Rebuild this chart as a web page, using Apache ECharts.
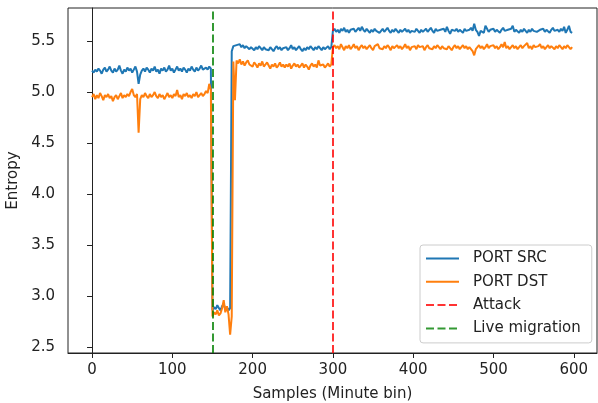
<!DOCTYPE html>
<html>
<head>
<meta charset="utf-8">
<script src="https://cdn.jsdelivr.net/npm/echarts@6/dist/echarts.min.js"></script>
<style>
body{margin:0;background:#fff;}
#main{width:598px;height:403px;}
</style>
</head>
<body>
<div id="main"></div>
<script>
var step=2;                 //one value every 2 samples (minute bins)
var portSrc=[
5.21,5.19,5.22,5.20,5.23,5.21,5.18,5.22,5.24,5.20,
5.22,5.25,5.21,5.19,5.23,5.20,5.22,5.26,5.21,5.18,
5.22,5.20,5.24,5.21,5.23,5.19,5.22,5.25,5.20,5.08,
5.17,5.21,5.23,5.20,5.24,5.22,5.19,5.23,5.21,5.25,
5.20,5.22,5.18,5.23,5.21,5.24,5.20,5.22,5.26,5.21,
5.23,5.19,5.22,5.25,5.21,5.23,5.20,5.24,5.22,5.19,
5.23,5.21,5.25,5.22,5.20,5.24,5.21,5.23,5.26,5.22,
5.21,5.24,5.22,5.25,5.23,2.86,2.89,2.87,2.91,2.88,
2.86,2.90,2.92,2.87,2.89,2.86,2.88,5.40,5.45,5.44,
5.46,5.45,5.47,5.44,5.46,5.43,5.45,5.44,5.42,5.44,
5.43,5.41,5.44,5.42,5.45,5.43,5.41,5.44,5.42,5.43,
5.41,5.44,5.42,5.40,5.43,5.45,5.42,5.44,5.41,5.43,
5.42,5.44,5.41,5.43,5.46,5.42,5.44,5.41,5.43,5.45,
5.42,5.40,5.43,5.41,5.44,5.42,5.45,5.43,5.41,5.44,
5.42,5.45,5.43,5.41,5.44,5.42,5.43,5.45,5.42,5.44,
5.60,5.62,5.59,5.61,5.58,5.62,5.60,5.63,5.59,5.61,
5.58,5.61,5.60,5.62,5.59,5.61,5.63,5.60,5.64,5.61,
5.59,5.62,5.60,5.58,5.61,5.59,5.62,5.60,5.61,5.58,
5.60,5.62,5.59,5.61,5.63,5.60,5.58,5.61,5.59,5.62,
5.60,5.58,5.61,5.59,5.60,5.62,5.59,5.61,5.58,5.60,
5.61,5.59,5.62,5.60,5.58,5.61,5.59,5.60,5.62,5.59,
5.61,5.63,5.60,5.58,5.62,5.60,5.59,5.61,5.60,5.62,
5.59,5.64,5.60,5.57,5.61,5.62,5.60,5.62,5.59,5.61,
5.60,5.58,5.62,5.60,5.59,5.61,5.63,5.60,5.67,5.61,
5.59,5.55,5.60,5.61,5.58,5.65,5.62,5.59,5.61,5.60,
5.62,5.59,5.61,5.60,5.58,5.61,5.63,5.60,5.59,5.61,
5.60,5.62,5.65,5.59,5.61,5.60,5.58,5.61,5.59,5.62,
5.60,5.58,5.61,5.59,5.62,5.60,5.61,5.59,5.58,5.61,
5.60,5.62,5.59,5.61,5.60,5.58,5.61,5.63,5.60,5.59,
5.61,5.59,5.62,5.60,5.64,5.58,5.61,5.65,5.59,5.58
];
var portDst=[
4.95,4.98,4.93,4.97,4.94,4.99,4.96,4.92,4.97,4.95,
4.98,4.94,4.96,4.91,4.95,4.97,4.93,4.96,4.99,4.94,
4.97,4.95,4.98,4.96,5.00,5.03,4.97,4.95,4.98,4.60,
4.93,4.97,4.95,4.99,4.96,4.94,4.98,4.95,4.97,5.00,
4.96,4.94,4.98,4.95,4.97,4.93,4.96,4.99,4.95,4.97,
4.94,4.98,4.96,5.02,4.95,4.97,4.93,4.98,4.96,4.99,
4.95,4.97,4.94,4.98,4.96,5.00,4.95,4.97,4.99,4.96,
4.98,5.01,4.99,5.08,5.02,2.80,2.84,2.82,2.86,2.81,
2.83,2.88,2.96,2.84,2.90,2.82,2.62,2.80,5.30,4.92,
5.31,5.28,5.32,5.27,5.30,5.26,5.29,5.31,5.27,5.28,
5.25,5.29,5.27,5.24,5.28,5.26,5.30,5.25,5.27,5.29,
5.26,5.23,5.27,5.25,5.28,5.24,5.26,5.29,5.25,5.27,
5.24,5.27,5.25,5.28,5.23,5.26,5.28,5.25,5.27,5.24,
5.26,5.28,5.24,5.27,5.25,5.22,5.26,5.28,5.25,5.27,
5.24,5.31,5.26,5.25,5.27,5.24,5.26,5.28,5.25,5.27,
5.44,5.46,5.43,5.45,5.42,5.47,5.44,5.41,5.45,5.43,
5.46,5.42,5.44,5.47,5.43,5.45,5.41,5.44,5.46,5.43,
5.45,5.42,5.44,5.46,5.43,5.41,5.45,5.44,5.47,5.43,
5.44,5.42,5.45,5.43,5.46,5.44,5.41,5.45,5.43,5.44,
5.46,5.43,5.45,5.42,5.44,5.47,5.43,5.45,5.41,5.44,
5.43,5.45,5.42,5.46,5.44,5.43,5.45,5.41,5.44,5.46,
5.43,5.44,5.42,5.45,5.43,5.46,5.44,5.42,5.45,5.43,
5.44,5.42,5.45,5.43,5.41,5.44,5.46,5.43,5.45,5.42,
5.44,5.46,5.43,5.45,5.42,5.44,5.43,5.40,5.36,5.42,
5.44,5.46,5.43,5.45,5.42,5.44,5.47,5.43,5.45,5.44,
5.46,5.43,5.45,5.42,5.44,5.47,5.44,5.49,5.43,5.45,
5.42,5.44,5.46,5.43,5.45,5.42,5.44,5.46,5.43,5.45,
5.44,5.48,5.43,5.45,5.42,5.46,5.44,5.43,5.45,5.47,
5.43,5.45,5.42,5.44,5.46,5.43,5.45,5.44,5.42,5.45,
5.43,5.46,5.44,5.42,5.45,5.43,5.46,5.44,5.42,5.44
];
var attackAt=300;           //vertical marker positions (samples)
var migrationAt=150;
var xTicks=[0,100,200,300,400,500,600];
var yTicks=[2.5,3.0,3.5,4.0,4.5,5.0,5.5];

var blue='#1f77b4';
var orange='#ff7f0e';
var red='rgba(255,0,0,0.8)';
var green='rgba(0,128,0,0.8)';
var font='DejaVu Sans';
var fs=15;

function toPairs(arr) {
    var out=[];
    for (var i=0;i<arr.length;i++){
        out.push([i*step,arr[i]]);
    }
    return out;
}
function vline(name,color,at) {              //dummy series carrying a dashed markLine
    return {
        name:name,
        type:'line',
        data:[],
        symbol:'none',
        lineStyle:{color:color,width:2,type:[8,3.5]},
        itemStyle:{color:color},
        markLine:{
            symbol:'none',
            silent:true,
            label:{show:false},
            lineStyle:{color:color,width:2,type:[8,3.5]},
            data:[{xAxis:at}]
        }
    };
}
window.onload=function () {
    var myChart=echarts.init(document.getElementById('main'));
    var option={
        animation:false,
        textStyle:{fontFamily:font},
        grid:{left:68,right:1,top:8,bottom:50,show:true,borderColor:'#222',borderWidth:1,
            outerBoundsMode:'none',containLabel:false},
        xAxis:{
            type:'value',
            min:-29.95,
            max:628.95,
            name:'Samples (Minute bin)',
            nameLocation:'middle',
            nameGap:34,
            nameTextStyle:{fontSize:fs,color:'#222',fontFamily:font},
            axisLine:{lineStyle:{color:'#222'}},
            axisTick:{length:5,customValues:xTicks,lineStyle:{color:'#222'}},
            axisLabel:{fontSize:fs,color:'#222',margin:10,customValues:xTicks},
            splitLine:{show:false}
        },
        yAxis:{
            type:'value',
            min:2.441,
            max:5.824,
            name:'Entropy',
            nameLocation:'middle',
            nameGap:44,
            nameTextStyle:{fontSize:fs,color:'#222',fontFamily:font},
            axisLine:{show:true,lineStyle:{color:'#222'}},
            axisTick:{show:true,length:5,customValues:yTicks,lineStyle:{color:'#222'}},
            axisLabel:{fontSize:fs,color:'#222',margin:13,customValues:yTicks,
                formatter:function (v) {return v.toFixed(1);}},
            splitLine:{show:false}
        },
        legend:{
            data:['PORT SRC','PORT DST','Attack','Live migration'],
            orient:'vertical',
            left:420,
            top:245,
            padding:[6,11,7,5],
            itemWidth:33,
            itemHeight:15,
            itemGap:8.3,
            itemStyle:{opacity:0},              //hide the round symbol, keep the line
            backgroundColor:'rgba(255,255,255,0.8)',
            borderColor:'#ccc',
            borderWidth:1,
            borderRadius:3,
            textStyle:{fontSize:fs,color:'#222',fontFamily:font,padding:[0,0,0,9]}
        },
        series:[
            {name:'PORT SRC',type:'line',data:toPairs(portSrc),symbol:'none',showSymbol:false,
                lineStyle:{color:blue,width:2},itemStyle:{color:blue}},
            {name:'PORT DST',type:'line',data:toPairs(portDst),symbol:'none',showSymbol:false,
                lineStyle:{color:orange,width:2},itemStyle:{color:orange}},
            vline('Attack',red,attackAt),
            vline('Live migration',green,migrationAt)
        ]
    };
    myChart.setOption(option);
}
</script>
</body>
</html>
